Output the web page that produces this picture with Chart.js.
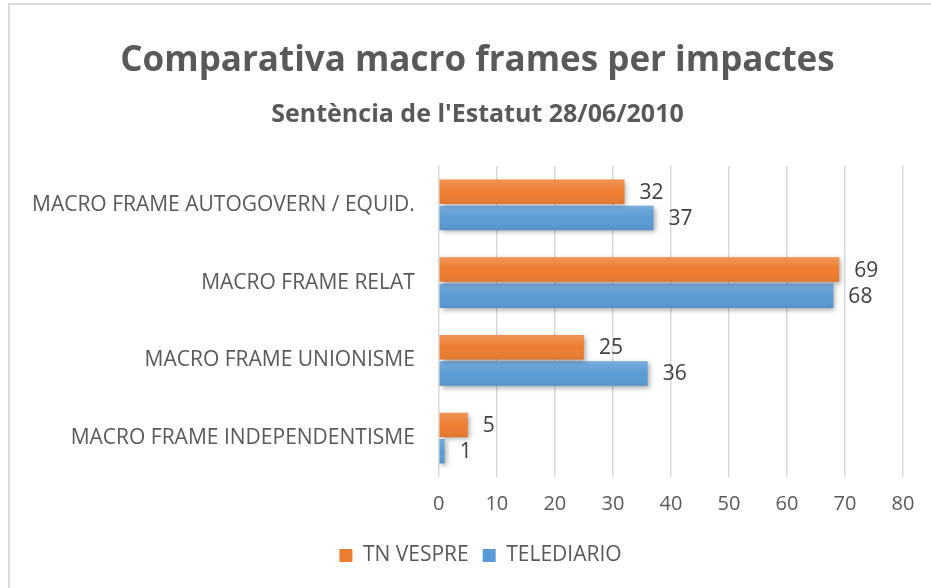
<!DOCTYPE html>
<html>
<head>
<meta charset="utf-8">
<script src="https://cdn.jsdelivr.net/npm/chart.js@4"></script>
<style>
html,body{margin:0;padding:0;background:#fff;}
#wrap{width:931px;height:588px;position:relative;}
</style>
</head>
<body>
<div id="wrap"><canvas id="c" width="931" height="588"></canvas></div>
<script>
const categories = ["MACRO FRAME AUTOGOVERN / EQUID.", "MACRO FRAME RELAT", "MACRO FRAME UNIONISME", "MACRO FRAME INDEPENDENTISME"];
const tnVespre = [32, 69, 25, 5];
const telediario = [37, 68, 36, 1];
const seriesNames = ["TN VESPRE", "TELEDIARIO"];
const xTicks = [0, 10, 20, 30, 40, 50, 60, 70, 80];

const FONT = "'Open Sans', 'DejaVu Sans', sans-serif";
const GREY = "#595959";

const framePlugin = {
  id: 'frame',
  beforeDraw(chart) {
    const ctx = chart.ctx;
    ctx.save();
    ctx.fillStyle = '#fff';
    ctx.fillRect(0, 0, chart.width, chart.height);
    ctx.strokeStyle = '#d9d9d9';
    ctx.lineWidth = 2;
    ctx.strokeRect(9, 4, 1000, 1000);
    ctx.restore();
  }
};

// Centre title, subtitle and legend on the outer frame rather than the padded box
const centerPlugin = {
  id: 'centerShift',
  afterLayout(chart) {
    chart.boxes.forEach(b => {
      if (b === chart.legend) { b.left += 25; b.right += 25; }
      else if (b.options && typeof b.options.text === 'string' && b.options.text) {
        b.left += 22; b.right += 22;
      }
    });
  }
};

const barStylePlugin = {
  id: 'barStyle',
  beforeDatasetsDraw(chart) {
    const ctx = chart.ctx;
    ctx.save();
    ctx.shadowColor = 'rgba(0,0,0,0.35)';
    ctx.shadowBlur = 5;
    ctx.shadowOffsetX = 2;
    ctx.shadowOffsetY = 2;
  },
  afterDatasetsDraw(chart) {
    const ctx = chart.ctx;
    ctx.restore();
    ctx.save();
    chart.data.datasets.forEach((ds, di) => {
      const meta = chart.getDatasetMeta(di);
      meta.data.forEach((el, i) => {
        const h = el.height;
        const top = el.y - h / 2;
        const left = Math.min(el.base, el.x);
        const w = Math.abs(el.x - el.base);
        const g = ctx.createLinearGradient(0, top, 0, top + h);
        g.addColorStop(0, 'rgba(255,255,255,0.18)');
        g.addColorStop(0.5, 'rgba(255,255,255,0.0)');
        g.addColorStop(1, 'rgba(0,0,0,0.06)');
        ctx.fillStyle = g;
        ctx.fillRect(left, top, w, h);
        ctx.fillStyle = '#404040';
        ctx.font = "21px " + FONT;
        ctx.textAlign = 'left';
        ctx.textBaseline = 'middle';
        ctx.fillText(String(ds.data[i]), el.x + 15, el.y + 1);
      });
    });
    ctx.restore();
  }
};

new Chart(document.getElementById('c'), {
  type: 'bar',
  data: {
    labels: categories,
    datasets: [
      { label: seriesNames[0], data: tnVespre, backgroundColor: '#ED7D31', borderWidth: 0,
        categoryPercentage: 0.67, barPercentage: 0.94 },
      { label: seriesNames[1], data: telediario, backgroundColor: '#5B9BD5', borderWidth: 0,
        categoryPercentage: 0.67, barPercentage: 0.94 }
    ]
  },
  options: {
    indexAxis: 'y',
    responsive: false,
    animation: false,
    devicePixelRatio: 1,
    layout: { padding: { left: 8, right: 28, top: 40, bottom: 12 } },
    scales: {
      x: {
        min: 0, max: 80,
        afterBuildTicks(scale) { scale.ticks = xTicks.map(v => ({ value: v })); },
        grid: { color: '#d9d9d9', lineWidth: 1.5, drawTicks: false },
        border: { display: false },
        ticks: { color: GREY, font: { family: FONT, size: 20 }, padding: 15 }
      },
      y: {
        grid: { display: false, drawTicks: false },
        border: { display: false },
        ticks: { color: GREY, font: { family: FONT, size: 21 }, padding: 24 }
      }
    },
    plugins: {
      title: {
        display: true,
        text: 'Comparativa macro frames per impactes',
        color: GREY,
        font: { family: FONT, size: 35, weight: 'bold' },
        padding: { top: 0, bottom: 18 }
      },
      subtitle: {
        display: true,
        text: "Sentència de l'Estatut 28/06/2010",
        color: GREY,
        font: { family: FONT, size: 25, weight: 'bold' },
        padding: { top: 0, bottom: 36 }
      },
      legend: {
        position: 'bottom',
        labels: { color: GREY, font: { family: FONT, size: 21 }, boxWidth: 13, boxHeight: 13, padding: 14 }
      },
      tooltip: { enabled: false }
    }
  },
  plugins: [framePlugin, centerPlugin, barStylePlugin]
});
</script>
</body>
</html>
